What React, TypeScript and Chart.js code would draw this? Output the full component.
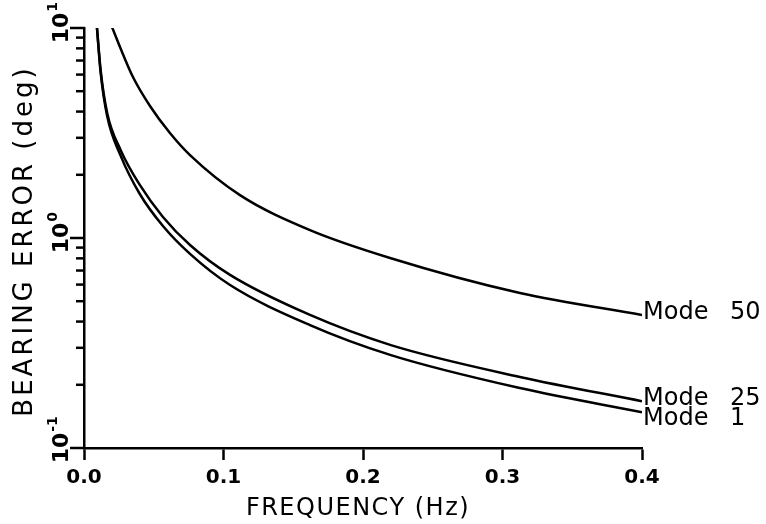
import { useEffect, useRef } from "react";
import { Chart, registerables } from "chart.js";

Chart.register(...registerables);

// Frequency (Hz) and bearing error (deg)
const MODE1_FREQ = [0.0093, 0.0119, 0.0166, 0.0263, 0.04, 0.0566, 0.076, 0.1047, 0.162, 0.22, 0.3125, 0.4];
const MODE1_ERR = [10, 6.17, 3.81, 2.46, 1.62, 1.14, 0.84, 0.597, 0.385, 0.277, 0.193, 0.148];

const MODE25_FREQ = [0.0093, 0.0119, 0.0166, 0.0263, 0.04, 0.0566, 0.076, 0.1047, 0.162, 0.22, 0.3125, 0.4];
const MODE25_ERR = [10, 6.31, 3.94, 2.62, 1.79, 1.26, 0.926, 0.667, 0.43, 0.309, 0.218, 0.167];

const MODE50_FREQ = [0.0201, 0.0258, 0.0351, 0.0473, 0.0616, 0.076, 0.1118, 0.162, 0.2194, 0.3125, 0.4];
const MODE50_ERR = [10.1, 8.12, 5.84, 4.25, 3.16, 2.48, 1.6, 1.09, 0.803, 0.547, 0.43];

const SERIES_LABELS = ["Mode 1", "Mode 25", "Mode 50"];
const X_TICKS = [0, 0.1, 0.2, 0.3, 0.4];
const Y_TICKS = [0.1, 0.2, 0.3, 0.4, 0.5, 0.6, 0.7, 0.8, 0.9, 1, 2, 3, 4, 5, 6, 7, 8, 9, 10];
const Y_MAJOR = [0.1, 1, 10];
const Y_TICK_EXP = ["-1", "0", "1"];
const X_TITLE = "FREQUENCY (Hz)";
const Y_TITLE = "BEARING ERROR (deg)";

// label baseline offsets (px) from each curve's end point
const LABEL_DY = [13, 4, 4];

const FONT = '"DejaVu Sans", sans-serif';

const annotate = {
  id: "annotate",
  afterDraw(chart: any) {
    const ctx: CanvasRenderingContext2D = chart.ctx;
    const area = chart.chartArea;
    const ys = chart.scales.y;
    ctx.save();
    ctx.fillStyle = "#000";
    ctx.strokeStyle = "#000";
    ctx.lineWidth = 2.5;
    ctx.lineCap = "butt";

    // y tick marks: minor short, major long, outward
    Y_TICKS.forEach((v) => {
      const py = ys.getPixelForValue(v);
      const len = Y_MAJOR.indexOf(v) >= 0 ? 14 : 8;
      ctx.beginPath();
      ctx.moveTo(area.left - len, py);
      ctx.lineTo(area.left + 1, py);
      ctx.stroke();
    });

    // rotated y tick labels 10^n
    Y_MAJOR.forEach((v, i) => {
      const py = ys.getPixelForValue(v);
      ctx.save();
      ctx.translate(area.left - 16, py);
      ctx.rotate(-Math.PI / 2);
      ctx.textAlign = "left";
      ctx.textBaseline = "alphabetic";
      ctx.font = `bold 22px ${FONT}`;
      const w = ctx.measureText("10").width;
      ctx.fillText("10", -w / 2, 0);
      ctx.font = `bold 14px ${FONT}`;
      ctx.fillText(Y_TICK_EXP[i], w / 2 + 1, -11);
      ctx.restore();
    });

    // y title
    ctx.save();
    ctx.translate(32, (area.top + area.bottom) / 2 + 3);
    ctx.rotate(-Math.PI / 2);
    ctx.font = `26px ${FONT}`;
    (ctx as any).letterSpacing = "3px";
    ctx.textAlign = "center";
    ctx.textBaseline = "alphabetic";
    ctx.fillText(Y_TITLE, 0, 0);
    ctx.restore();

    // x title
    ctx.save();
    ctx.font = `24px ${FONT}`;
    (ctx as any).letterSpacing = "1.5px";
    ctx.textAlign = "center";
    ctx.textBaseline = "alphabetic";
    ctx.fillText(X_TITLE, (area.left + area.right) / 2 - 5, 515);
    ctx.restore();

    // series end labels
    ctx.save();
    ctx.font = `24px ${FONT}`;
    (ctx as any).wordSpacing = "14px";
    ctx.textAlign = "left";
    ctx.textBaseline = "alphabetic";
    chart.data.datasets.forEach((_ds: any, i: number) => {
      const meta = chart.getDatasetMeta(i);
      const pt = meta.data[meta.data.length - 1];
      ctx.fillText(SERIES_LABELS[i], pt.x + 1, pt.y + LABEL_DY[i]);
    });
    ctx.restore();

    ctx.restore();
  },
};

function toPoints(xs: number[], ys: number[]) {
  return xs.map((x, i) => ({ x, y: ys[i] }));
}

export default function App() {
  const ref = useRef<HTMLCanvasElement | null>(null);

  useEffect(() => {
    document.body.style.margin = "0";
    const canvas = ref.current;
    if (!canvas) return;
    const lineStyle = {
      borderColor: "#000",
      borderWidth: 2.5,
      pointRadius: 0,
      fill: false,
      cubicInterpolationMode: "monotone" as const,
    };
    const chart = new Chart(canvas, {
      type: "line",
      data: {
        datasets: [
          { label: SERIES_LABELS[0], data: toPoints(MODE1_FREQ, MODE1_ERR), ...lineStyle },
          { label: SERIES_LABELS[1], data: toPoints(MODE25_FREQ, MODE25_ERR), ...lineStyle },
          { label: SERIES_LABELS[2], data: toPoints(MODE50_FREQ, MODE50_ERR), ...lineStyle },
        ],
      },
      options: {
        responsive: false,
        animation: false,
        layout: { padding: { left: 0, right: 124, top: 28, bottom: 0 } },
        plugins: { legend: { display: false }, tooltip: { enabled: false } },
        scales: {
          x: {
            type: "linear",
            min: 0,
            max: 0.4,
            afterBuildTicks: (s: any) => {
              s.ticks = X_TICKS.map((v) => ({ value: v }));
            },
            afterFit: (s: any) => {
              s.height = 76;
            },
            ticks: {
              callback: (v: any) => Number(v).toFixed(1),
              font: { family: "DejaVu Sans", size: 20, weight: "bold" },
              color: "#000",
              padding: 6,
              maxRotation: 0,
              autoSkip: false,
            },
            grid: {
              drawOnChartArea: false,
              tickLength: 12,
              tickColor: "#000",
              tickWidth: 2.5,
            },
            border: { color: "#000", width: 2.5 },
          },
          y: {
            type: "logarithmic",
            min: 0.1,
            max: 10,
            afterBuildTicks: (s: any) => {
              s.ticks = Y_TICKS.map((v) => ({ value: v, major: Y_MAJOR.indexOf(v) >= 0 }));
            },
            afterFit: (s: any) => {
              s.width = 84;
            },
            ticks: { display: false },
            grid: { display: false },
            border: { display: true, color: "#000", width: 2.5 },
          },
        },
      },
      plugins: [annotate],
    });
    return () => chart.destroy();
  }, []);

  return <canvas ref={ref} width={766} height={524} />;
}
